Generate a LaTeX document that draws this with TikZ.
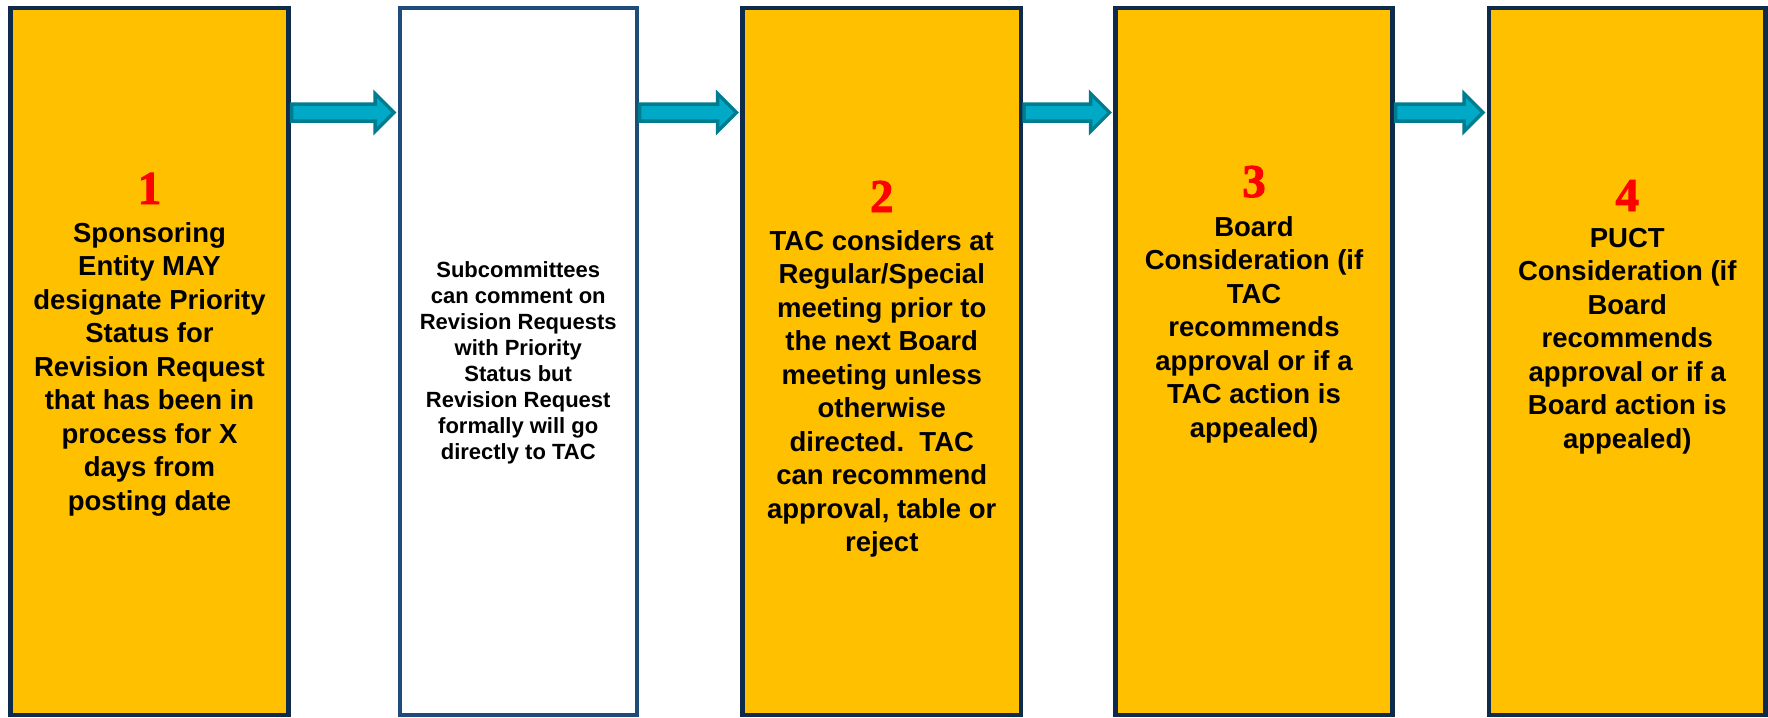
\documentclass[tikz,border=0pt]{standalone}
\usepackage{fontspec}
\setmainfont{Liberation Sans}
\newfontfamily\numfont{Liberation Serif}[BoldFeatures={FakeBold=2}]
\usetikzlibrary{calc}
\definecolor{boxyellow}{HTML}{FFC000}
\definecolor{boxnavy}{HTML}{0E2B4B}
\definecolor{whitenavy}{HTML}{1D4C7A}
\definecolor{arrowfill}{HTML}{00A9C6}
\definecolor{arrowline}{HTML}{007C91}
\newcommand\blockarrow[2]{%
  \draw[flowarrow] let \p1=($(#1.east |- arow)+(3,0)$), \p2=($(#2.west |- arow)+(-6,0)$) in
  (\x1,\y1+8.5pt) -- (\x2-19pt,\y1+8.5pt) -- (\x2-19pt,\y1+19pt) -- (\x2,\y1)
  -- (\x2-19pt,\y1-19pt) -- (\x2-19pt,\y1-8.5pt) -- (\x1,\y1-8.5pt) -- cycle;}
\begin{document}
\begin{tikzpicture}[x=1pt,y=-1pt,
  stagebox/.style={draw=boxnavy, fill=boxyellow, line width=4.5pt, minimum height=707pt, inner sep=0pt, outer sep=0pt},
  notebox/.style={draw=whitenavy, fill=white, line width=4pt, minimum height=707pt, inner sep=0pt, outer sep=0pt},
  flowarrow/.style={fill=arrowfill, draw=arrowline, line width=3.5pt, line join=miter},
  steptext/.style={font=\bfseries\fontsize{27.5}{33.5}\selectfont, align=center, inner sep=0pt, anchor=north},
  notetext/.style={font=\bfseries\fontsize{22}{26}\selectfont, align=center, inner sep=0pt, anchor=north},
  numlabel/.style={font=\numfont\bfseries\fontsize{47}{47}\selectfont, text=red, inner sep=0pt, anchor=base}]
\useasboundingbox (0,0) rectangle (1768,717);
\fill[white] (0,0) rectangle (1768,717);
\coordinate (arow) at (0,112.5);

\node[stagebox, minimum width=278pt] (b1) at (149.5,361.5) {};
\node[notebox, minimum width=236.5pt] (b2) at (518.25,361.5) {};
\node[stagebox, minimum width=278.5pt] (b3) at (881.75,361.5) {};
\node[stagebox, minimum width=277pt] (b4) at (1254,361.5) {};
\node[stagebox, minimum width=276.5pt] (b5) at (1627.25,361.5) {};

\blockarrow{b1}{b2}
\blockarrow{b2}{b3}
\blockarrow{b3}{b4}
\blockarrow{b4}{b5}

\node[numlabel] (n1) at (149.5,204) {1};
\node[steptext] (t1) at (149.5,222) {Sponsoring\\Entity MAY\\designate Priority\\Status for\\Revision Request\\that has been in\\process for X\\days from\\posting date};

\node[notetext] (t2) at (518.25,261) {Subcommittees\\can comment on\\Revision Requests\\with Priority\\Status but\\Revision Request\\formally will go\\directly to TAC};

\node[numlabel] (n2) at (881.75,212) {2};
\node[steptext] (t3) at (881.75,230) {TAC considers at\\Regular/Special\\meeting prior to\\the next Board\\meeting unless\\otherwise\\directed.\ \ TAC\\can recommend\\approval, table or\\reject};

\node[numlabel] (n3) at (1254,197) {3};
\node[steptext] (t4) at (1254,216) {Board\\Consideration (if\\TAC\\recommends\\approval or if a\\TAC action is\\appealed)};

\node[numlabel] (n4) at (1627.25,211) {4};
\node[steptext] (t5) at (1627.25,228) {PUCT\\Consideration (if\\Board\\recommends\\approval or if a\\Board action is\\appealed)};
\end{tikzpicture}
\end{document}
